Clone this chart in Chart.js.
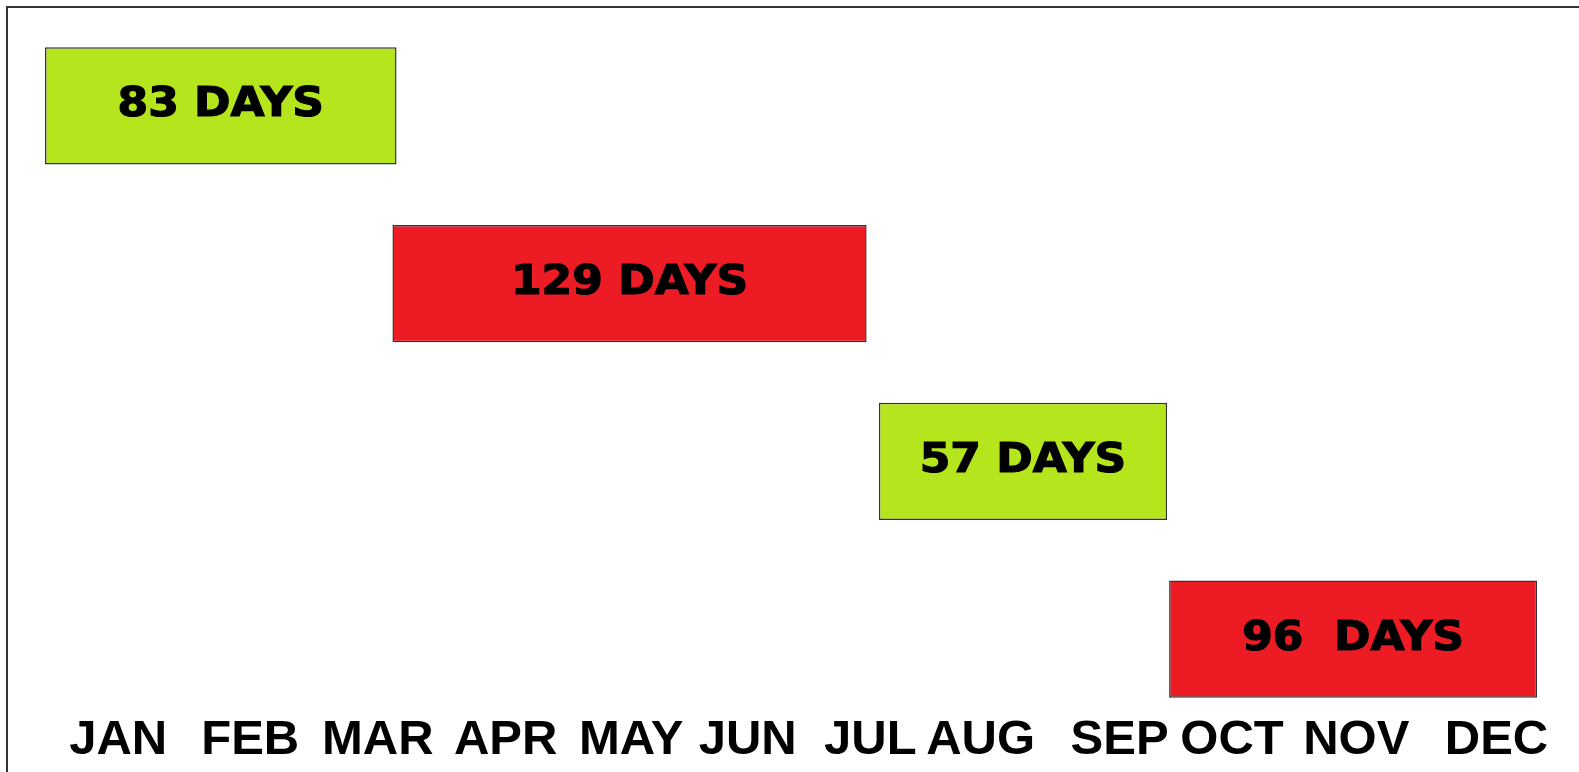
<!DOCTYPE html>
<html lang="en">

<head>
  <meta charset="UTF-8" />
  <title>Days per period</title>
  <style>
    * {
      margin: 0;
      padding: 0;
    }

    body {
      background: #ffffff;
      overflow: hidden;
    }

    .chartBox {
      position: absolute;
      left: 0;
      top: 0;
      width: 1579px;
      height: 772px;
    }

    .frame {
      position: absolute;
      left: 6px;
      top: 6px;
      right: 0;
      bottom: 0;
      border-left: 2px solid #333;
      border-top: 2px solid #333;
      pointer-events: none;
    }
  </style>
</head>

<body>
  <div class="chartBox">
    <canvas id="myChart" width="1579" height="772"></canvas>
    <div class="frame"></div>
  </div>
  <script src="https://cdn.jsdelivr.net/npm/chart.js@4/dist/chart.umd.min.js"></script>
  <script>
    // rows of the chart, top to bottom
    const periods = ["Period 1", "Period 2", "Period 3", "Period 4"];
    // start / end of each bar, in day of year
    const startDays = [0, 85, 204, 275];
    const endDays = [86, 201, 274.5, 365];
    const barLabels = ["83 DAYS", "129 DAYS", "57 DAYS", "96  DAYS"];
    const barColors = ["#b5e61d", "#ed1c24", "#b5e61d", "#ed1c24"];

    // month labels along the bottom and where they sit (day of year)
    const monthLabels = ["JAN", "FEB", "MAR", "APR", "MAY", "JUN", "JUL", "AUG", "SEP", "OCT", "NOV", "DEC"];
    const monthTicks = [17.9, 50.2, 81.4, 112.7, 143.4, 171.9, 201.9, 228.9, 262.9, 290.4, 320.8, 355.1];

    const barText = {
      id: "barText",
      afterDatasetsDraw(chart) {
        const ctx = chart.ctx;
        const meta = chart.getDatasetMeta(0);
        ctx.save();
        ctx.font = "bold 40px 'DejaVu Sans'";
        ctx.fillStyle = "#000";
        ctx.strokeStyle = "#000";
        ctx.lineWidth = 1.2;
        ctx.textAlign = "center";
        ctx.textBaseline = "middle";
        meta.data.forEach((bar, i) => {
          ctx.save();
          ctx.translate((bar.x + bar.base) / 2, bar.y);
          ctx.scale(1.1, 1);
          ctx.fillText(barLabels[i], 0, 0);
          ctx.strokeText(barLabels[i], 0, 0);
          ctx.restore();
        });
        ctx.restore();
      }
    };

    const data = {
      labels: periods,
      datasets: [
        {
          label: "days",
          data: startDays.map((s, i) => [s, endDays[i]]),
          backgroundColor: barColors,
          borderColor: "#333",
          borderWidth: 1.5,
          borderSkipped: false,
          categoryPercentage: 1,
          barPercentage: 0.66
        }
      ]
    };

    const options = {
      indexAxis: "y",
      responsive: false,
      animation: false,
      layout: {
        padding: { left: 45, right: 42, top: 17, bottom: 6 }
      },
      plugins: {
        legend: { display: false },
        tooltip: { enabled: false }
      },
      scales: {
        x: {
          type: "linear",
          min: 0,
          max: 365,
          grid: { display: false, drawTicks: false },
          border: { display: false },
          afterBuildTicks: (axis) => {
            axis.ticks = monthTicks.map(v => ({ value: v }));
          },
          afterFit: (axis) => {
            axis.paddingLeft = 0;
            axis.paddingRight = 0;
            axis.height = 38;
          },
          ticks: {
            autoSkip: false,
            maxRotation: 0,
            mirror: true,
            padding: -42,
            color: "#000",
            font: { family: "'Liberation Sans', Arial, sans-serif", size: 49, weight: "bold" },
            callback: (value, index) => monthLabels[index]
          }
        },
        y: {
          display: false
        }
      }
    };

    const ctx = document.getElementById("myChart").getContext("2d");
    const myChart = new Chart(ctx, {
      type: "bar",
      data: data,
      options: options,
      plugins: [barText]
    });
  </script>
</body>

</html>
